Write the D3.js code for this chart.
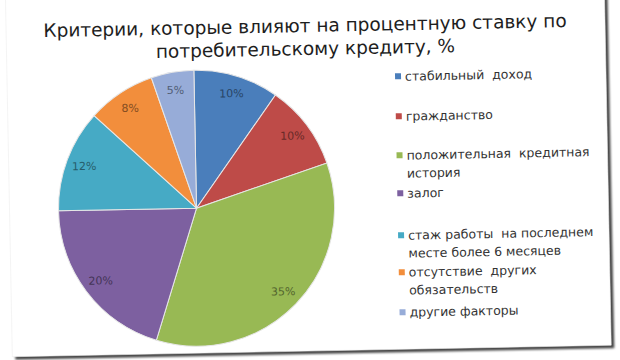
<!DOCTYPE html>
<html>
<head>
<meta charset="utf-8">
<script src="https://cdn.jsdelivr.net/npm/d3@7"></script>
<style>
  html, body { margin: 0; padding: 0; background: #fff; }
  svg { display: block; }
</style>
</head>
<body>
<svg id="chart" width="620" height="360"></svg>
<script>
// данные диаграммы
const titleLines = ['Критерии, которые влияют на процентную ставку по', 'потребительскому кредиту, %'];
const categories = [
  'стабильный  доход',
  'гражданство',
  'положительная  кредитная|история',
  'залог',
  'стаж работы  на последнем|месте более 6 месяцев',
  'отсутствие  других|обязательств',
  'другие факторы'
];
const values = [10, 10, 35, 20, 12, 8, 5];
const colors = ['#4a7ebb', '#be4b48', '#98b954', '#7d60a0', '#46aac5', '#f28e3c', '#97acd8'];

const W = 620, H = 360;
const svg = d3.select('#chart');

// тень и лёгкий наклон "фотографии"
const defs = svg.append('defs');
defs.append('filter').attr('id', 'shadow')
  .attr('x', '-5%').attr('y', '-5%').attr('width', '110%').attr('height', '110%')
  .append('feGaussianBlur').attr('stdDeviation', 1.3);

const card = svg.append('g').attr('transform', 'rotate(-1.1,310,180)');
card.append('rect')
  .attr('x', 12).attr('y', -20).attr('width', 599).attr('height', 374)
  .attr('fill', '#444')
  .attr('filter', 'url(#shadow)');
card.append('rect')
  .attr('x', 9).attr('y', -22).attr('width', 599).attr('height', 373)
  .attr('fill', '#fff')
  .attr('stroke', '#ececec').attr('stroke-width', 0.6);

// заголовок
card.append('g').selectAll('text')
  .data(titleLines)
  .enter()
  .append('text')
  .attr('x', 308)
  .attr('y', (d, i) => 32 + i * 23)
  .attr('text-anchor', 'middle')
  .style('font-family', '"DejaVu Sans", Verdana, sans-serif')
  .style('font-size', '18.5px')
  .attr('fill', '#1e1e1e')
  .text(d => d);

// круговая диаграмма
const R = 138;
const cx = 196, cy = 206;
const pie = d3.pie().sort(null).value(d => d);
const arcs = pie(values);
const arc = d3.arc().innerRadius(0).outerRadius(R);
const labelArc = d3.arc().innerRadius(R * 0.87).outerRadius(R * 0.87);

const pieG = card.append('g').attr('transform', `translate(${cx},${cy})`);
pieG.selectAll('path')
  .data(arcs)
  .enter()
  .append('path')
  .attr('d', arc)
  .attr('fill', (d, i) => colors[i])
  .attr('stroke', '#e6e6e6')
  .attr('stroke-width', 1);

pieG.selectAll('text')
  .data(arcs)
  .enter()
  .append('text')
  .attr('transform', d => `translate(${labelArc.centroid(d)})`)
  .attr('text-anchor', 'middle')
  .attr('dy', '0.35em')
  .style('font-family', '"DejaVu Sans", Verdana, sans-serif')
  .style('font-size', '11px')
  .attr('fill', (d, i) => d3.color(colors[i]).darker(1.7))
  .text(d => d.data + '%');

// легенда
const legendY = [78, 118, 157, 195, 237, 274, 314];
const legend = card.append('g').attr('transform', 'translate(400,0)');
const items = legend.selectAll('g')
  .data(categories)
  .enter()
  .append('g')
  .attr('transform', (d, i) => `translate(0,${legendY[i]})`);
items.append('rect')
  .attr('x', -3).attr('y', -3).attr('width', 6).attr('height', 6)
  .attr('fill', (d, i) => colors[i]);
items.append('text')
  .style('font-family', '"DejaVu Sans", Verdana, sans-serif')
  .style('font-size', '12.5px')
  .style('white-space', 'pre')
  .attr('fill', '#333')
  .selectAll('tspan')
  .data(d => d.split('|'))
  .enter()
  .append('tspan')
  .attr('x', 7)
  .attr('y', (d, j) => 4.5 + j * 18)
  .text(d => d);
</script>
</body>
</html>
